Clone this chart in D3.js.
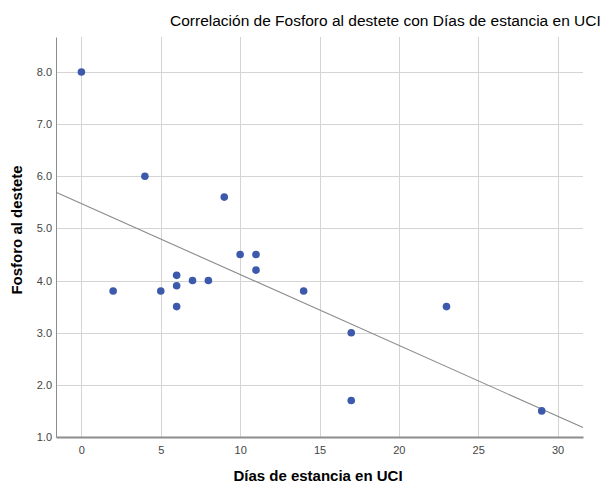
<!DOCTYPE html>
<head>
<meta charset="utf-8">
<title>Correlación de Fosforo al destete con Días de estancia en UCI</title>
<script src="https://d3js.org/d3.v7.min.js"></script>
<style>
body {
	margin: 0;
	background: #fff;
	font-family: "Liberation Sans", Arial, sans-serif;
}
.grid line {
	stroke: #d4d4d4;
	stroke-width: 1px;
	shape-rendering: crispEdges;
}
.tick text {
	fill: #444;
	font-size: 11px;
}
</style>
</head>
<body>
<svg id="chart" width="606" height="485"></svg>

<script>
// data
var dias = [0, 2, 4, 5, 6, 6, 6, 7, 8, 9, 10, 11, 11, 14, 17, 17, 23, 29];
var fosforo = [8.0, 3.8, 6.0, 3.8, 4.1, 3.9, 3.5, 4.0, 4.0, 5.6, 4.5, 4.5, 4.2, 3.8, 3.0, 1.7, 3.5, 1.5];
var xTicks = [0, 5, 10, 15, 20, 25, 30];
var yTicks = [1, 2, 3, 4, 5, 6, 7, 8];

var svg = d3.select("#chart"),
	margin = {top: 37, right: 23, bottom: 48, left: 56},
	width = +svg.attr("width"),
	height = +svg.attr("height");

var x = d3.scaleLinear()
	.domain([-1.6, 31.6])
	.range([margin.left, width - margin.right]);

var y = d3.scaleLinear()
	.domain([1, 8.67])
	.range([height - margin.bottom, margin.top]);

var points = dias.map((d, i) => ({x: d, y: fosforo[i]}));

// grid
svg.append("g").attr("class", "grid")
	.selectAll("line").data(xTicks).enter().append("line")
	.attr("x1", d => Math.round(x(d)) + 0.5).attr("x2", d => Math.round(x(d)) + 0.5)
	.attr("y1", margin.top).attr("y2", height - margin.bottom);

svg.append("g").attr("class", "grid")
	.selectAll("line").data(yTicks.slice(1)).enter().append("line")
	.attr("x1", margin.left).attr("x2", width - margin.right)
	.attr("y1", d => Math.round(y(d)) + 0.5).attr("y2", d => Math.round(y(d)) + 0.5);

// axes
var xAxis = svg.append("g")
	.attr("transform", "translate(0," + (height - margin.bottom) + ")")
	.call(d3.axisBottom(x).tickValues(xTicks).tickSize(0).tickPadding(9));
xAxis.select(".domain").attr("stroke", "#8c8c8c").attr("stroke-width", 2);

var yAxis = svg.append("g")
	.attr("transform", "translate(" + margin.left + ",0)")
	.call(d3.axisLeft(y).tickValues(yTicks).tickFormat(d3.format(".1f")).tickSize(0).tickPadding(4));
yAxis.select(".domain").attr("stroke", "#8c8c8c").attr("stroke-width", 1);

// least squares fit line
var mx = d3.mean(dias), my = d3.mean(fosforo);
var sxy = d3.sum(points, p => (p.x - mx) * (p.y - my));
var sxx = d3.sum(points, p => (p.x - mx) * (p.x - mx));
var b = sxy / sxx, a = my - b * mx;
var x0 = x.domain()[0], x1 = x.domain()[1];

svg.append("line")
	.attr("x1", x(x0)).attr("y1", y(a + b * x0))
	.attr("x2", x(x1)).attr("y2", y(a + b * x1))
	.attr("stroke", "#8a8a8a")
	.attr("stroke-width", 1.1);

// points
svg.append("g")
	.selectAll("circle").data(points).enter().append("circle")
	.attr("cx", d => x(d.x))
	.attr("cy", d => y(d.y))
	.attr("r", 3.8)
	.attr("fill", "#3d59ab");

// titles
svg.append("text")
	.attr("x", 170).attr("y", 26)
	.attr("font-size", 15.5)
	.attr("fill", "#000")
	.text("Correlación de Fosforo al destete con Días de estancia en UCI");

svg.append("text")
	.attr("x", 318).attr("y", 481)
	.attr("text-anchor", "middle")
	.attr("font-size", 15)
	.attr("font-weight", "bold")
	.text("Días de estancia en UCI");

svg.append("text")
	.attr("transform", "translate(22,230) rotate(-90)")
	.attr("text-anchor", "middle")
	.attr("font-size", 15)
	.attr("font-weight", "bold")
	.text("Fosforo al destete");
</script>
</body>
</html>
